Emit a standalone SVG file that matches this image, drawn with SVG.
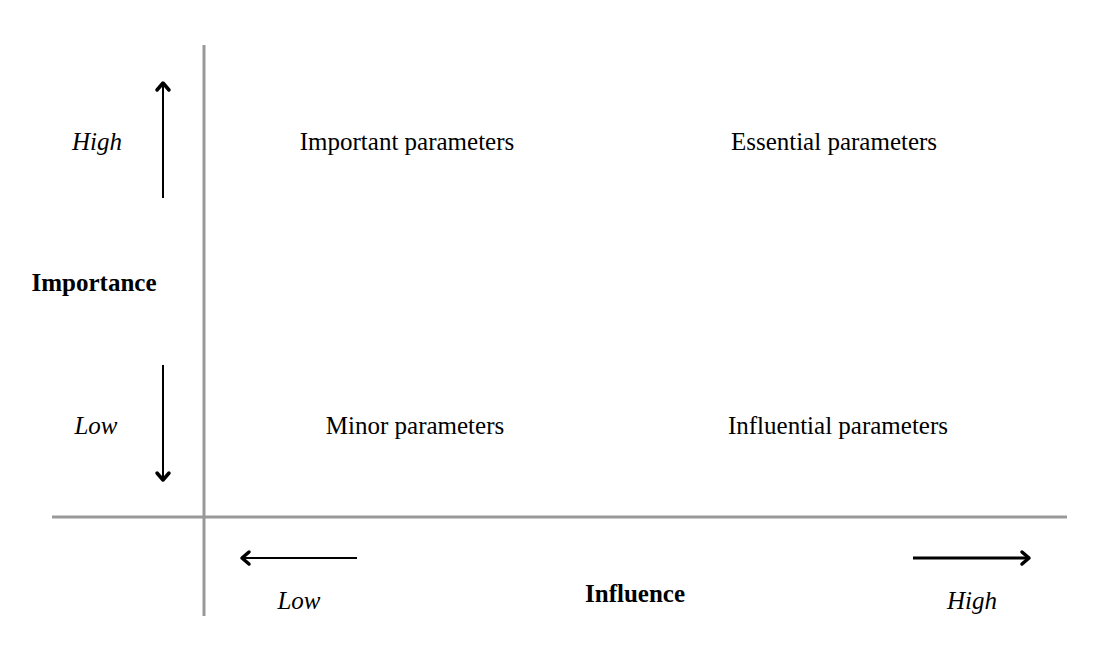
<svg xmlns="http://www.w3.org/2000/svg" width="1105" height="646" viewBox="0 0 1105 646">
<style>
text{font-family:"Liberation Serif","Times New Roman",serif;font-size:25px;fill:#000;text-anchor:middle}
.i{font-style:italic}
.b{font-weight:bold}
.axis{stroke:#999;stroke-width:3;fill:none}
.arr{stroke:#000;stroke-width:2;fill:none}
.head{stroke:#000;stroke-width:3.5;fill:none;stroke-linecap:round;stroke-linejoin:round}
</style>
<rect width="1105" height="646" fill="#fff"/>
<g id="axes">
<line class="axis" x1="204" y1="45" x2="204" y2="616"/>
<line class="axis" x1="52" y1="517" x2="1067" y2="517"/>
</g>
<g id="connectors">
<line class="arr" x1="163" y1="198" x2="163" y2="82"/>
<polyline class="head" points="157,90 163,83 169,90"/>
<line class="arr" x1="163" y1="365" x2="163" y2="480"/>
<polyline class="head" points="157,473 163,480 169,473"/>
<line class="arr" x1="357" y1="558" x2="242" y2="558"/>
<polyline class="head" points="249,552 242,558 249,564"/>
<line class="arr" x1="913" y1="558" x2="1029" y2="558" style="stroke-width:3"/>
<polyline class="head" points="1022,552 1029,558 1022,564"/>
</g>
<g id="n-important"><text x="407" y="150">Important parameters</text></g>
<g id="n-essential"><text x="834" y="150">Essential parameters</text></g>
<g id="n-minor"><text x="415" y="434">Minor parameters</text></g>
<g id="n-influential"><text x="838" y="434">Influential parameters</text></g>
<g id="l-high-y"><text class="i" x="97" y="150">High</text></g>
<g id="l-importance"><text class="b" x="94" y="291">Importance</text></g>
<g id="l-low-y"><text class="i" x="96" y="434">Low</text></g>
<g id="l-low-x"><text class="i" x="299" y="609">Low</text></g>
<g id="l-influence"><text class="b" x="635" y="602">Influence</text></g>
<g id="l-high-x"><text class="i" x="972" y="609">High</text></g>
</svg>
